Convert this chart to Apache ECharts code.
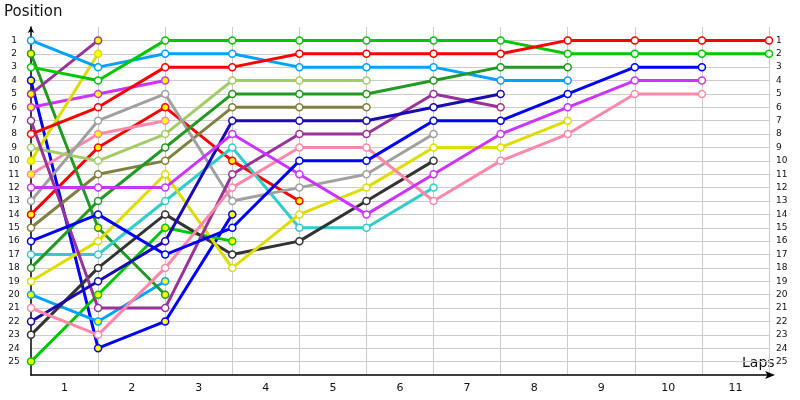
<!DOCTYPE html>
<html>
<head>
<meta charset="utf-8">
<script src="https://cdn.jsdelivr.net/npm/echarts@6/dist/echarts.min.js"></script>
<style>html,body{margin:0;padding:0;background:#fff}#c{width:800px;height:400px}</style>
</head>
<body>
<div id="c"></div>
<script>
// Lap labels (x axis) and position labels (y axis)
const lapLabels = ['1','2','3','4','5','6','7','8','9','10','11'];
const positionLabels = ['1','2','3','4','5','6','7','8','9','10','11','12','13','14','15','16','17','18','19','20','21','22','23','24','25'];

// Positions per lap (index 0 = start grid, then after lap 1, 2, ...)
const red1 = [8,6,3,3,2,2,2,2,1,1,1,1];
const green1 = [3,4,1,1,1,1,1,1,2,2,2,2];
const blue1 = [16,14,17,15,10,10,7,7,5,3,3];
const violet1 = [12,12,12,8,11,14,11,8,6,4,4];
const pink1 = [21,23,18,12,9,9,13,10,8,5,5];
const darkGreen1 = [18,13,9,5,5,5,4,3,3];
const lightBlue1 = [1,3,2,2,3,3,3,4,4];
const navy1 = [22,19,16,7,7,7,6,5];
const purple1 = [7,21,21,11,8,8,5,6];
const yellow1 = [19,16,11,18,14,12,9,9,7];
const gray1 = [13,7,5,13,12,11,8];
const darkGray1 = [23,18,14,17,16,13,10];
const cyan1 = [17,17,13,9,15,15,12];
const lightGreen1 = [9,10,8,4,4,4];
const olive1 = [15,11,10,6,6,6];
// retired drivers (yellow markers)
const red2 = [14,9,6,10,13];
const blue2 = [4,24,22,14];
const green2 = [25,20,15,16];
const violet2 = [6,5,4];
const pink2 = [11,8,7];
const lightBlue2 = [20,22,19];
const darkGreen2 = [2,15,20];
const purple2 = [5,1];
const yellow2 = [10,2];

const C = {
  red:'#ff0000', green:'#00c800', blue:'#0000ff', violet:'#cc33ff', pink:'#ff88aa',
  darkGreen:'#229922', lightBlue:'#00a2ff', navy:'#1a0ab4', purple:'#993399',
  yellow:'#dddd00', gray:'#a0a0a0', darkGray:'#333333', cyan:'#33cccc',
  lightGreen:'#a3cc66', olive:'#808040'
};

const drivers = [
  [red2, C.red, true], [blue2, C.blue, true], [green2, C.green, true],
  [violet2, C.violet, true], [pink2, C.pink, true], [lightBlue2, C.lightBlue, true],
  [darkGreen2, C.darkGreen, true], [purple2, C.purple, true], [yellow2, C.yellow, true],
  [olive1, C.olive, false], [lightGreen1, C.lightGreen, false], [cyan1, C.cyan, false],
  [darkGray1, C.darkGray, false], [gray1, C.gray, false], [yellow1, C.yellow, false],
  [purple1, C.purple, false], [navy1, C.navy, false], [lightBlue1, C.lightBlue, false],
  [darkGreen1, C.darkGreen, false], [pink1, C.pink, false], [violet1, C.violet, false],
  [blue1, C.blue, false], [green1, C.green, false], [red1, C.red, false]
];

const series = drivers.map(([arr, col, retired]) => ({
  type: 'line',
  xAxisIndex: 0,
  yAxisIndex: 0,
  data: arr.map((p, i) => [i, p]),
  symbol: 'circle',
  symbolSize: 7,
  showAllSymbol: true,
  lineStyle: { color: col, width: 3 },
  itemStyle: { color: retired ? '#ffff00' : '#ffffff', borderColor: col, borderWidth: 1.5 },
  emphasis: { disabled: true },
  animation: false
}));

const chart = echarts.init(document.getElementById('c'), null, { renderer: 'canvas' });
const font = 'DejaVu Sans';
chart.setOption({
  animation: false,
  grid: { left: 31, right: 31, top: 27, bottom: 25, containLabel: false },
  graphic: [
    { type: 'text', left: 4, top: 5, style: { text: 'Position', font: '15px "DejaVu Sans"', fill: '#111' } },
    { type: 'text', left: 742, top: 356, style: { text: 'Laps', font: '14px "DejaVu Sans"', fill: '#111' } }
  ],
  xAxis: [
    {
      type: 'value', min: 0, max: 11, interval: 1, position: 'bottom',
      axisLine: { show: true, onZero: false, lineStyle: { color: '#000', width: 1.5 }, symbol: ['none', 'arrow'], symbolSize: [6, 10], symbolOffset: [0, 6] },
      axisTick: { show: false }, axisLabel: { show: false },
      splitLine: { show: true, showMinLine: false, lineStyle: { color: '#cccccc', width: 1 } }
    },
    {
      type: 'category', data: lapLabels, boundaryGap: true, position: 'bottom',
      axisLine: { show: false, onZero: false }, axisTick: { show: false }, splitLine: { show: false },
      axisLabel: { color: '#111', fontFamily: font, fontSize: 11, margin: 8 }
    }
  ],
  yAxis: [
    {
      type: 'value', inverse: true, min: 0, max: 26, interval: 1, position: 'left',
      axisLine: { show: true, onZero: false, lineStyle: { color: '#000', width: 1.5 }, symbol: ['none', 'arrow'], symbolSize: [5, 6] },
      axisTick: { show: false },
      axisLabel: {
        color: '#111', fontFamily: font, fontSize: 9, align: 'center', margin: 17,
        formatter: v => (v >= 1 && v <= 25) ? positionLabels[v - 1] : ''
      },
      splitLine: { show: true, showMinLine: false, showMaxLine: false, lineStyle: { color: '#cccccc', width: 1 } }
    },
    {
      type: 'value', inverse: true, min: 0, max: 26, interval: 1, position: 'right',
      axisLine: { show: false, onZero: false }, axisTick: { show: false }, splitLine: { show: false },
      axisLabel: {
        color: '#111', fontFamily: font, fontSize: 9, align: 'left', margin: 7,
        formatter: v => (v >= 1 && v <= 25) ? positionLabels[v - 1] : ''
      }
    }
  ],
  series: series
});
</script>
</body>
</html>
